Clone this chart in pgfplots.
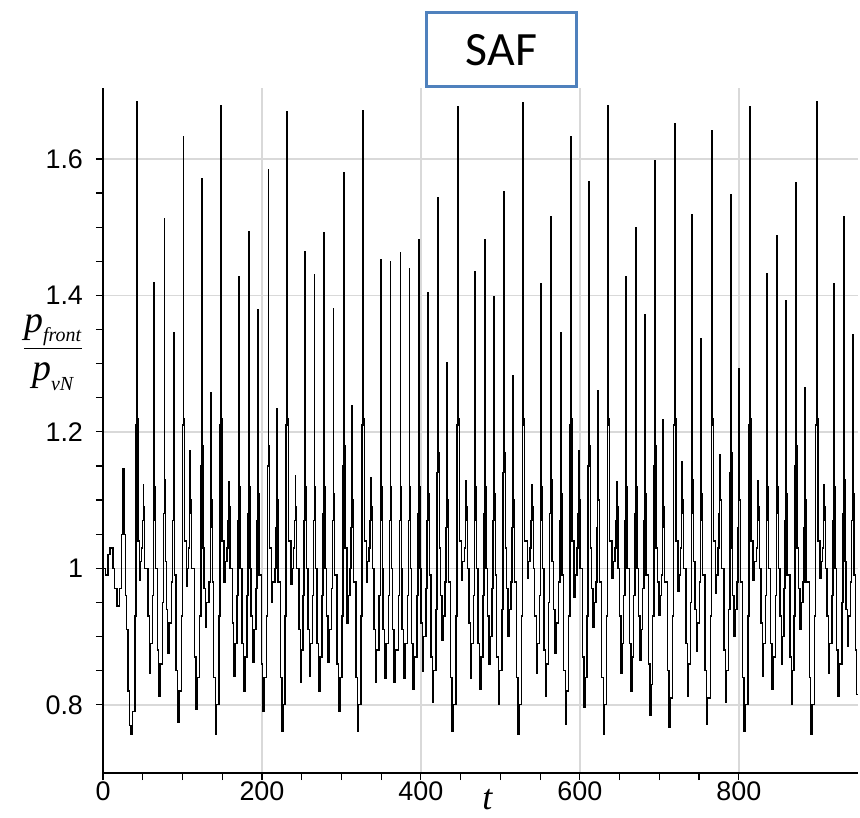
\documentclass[border=0pt]{standalone}
\usepackage{fontspec}
\setmainfont{Liberation Sans}
\newfontfamily\serif{Liberation Serif}
\newfontfamily\calibri{Carlito}
\usepackage{pgfplots}
\pgfplotsset{compat=1.18}
\definecolor{boxblue}{RGB}{79,129,189}
\definecolor{gridgray}{RGB}{217,217,217}
\begin{document}
\begin{tikzpicture}
\path[use as bounding box] (-51.5bp,-22.5bp) rectangle (378.5bp,386.5bp);
\begin{axis}[
  at={(0,0)}, anchor=south west,
  scale only axis, width=377.5bp, height=342.5bp,
  xmin=0, xmax=950, ymin=0.7, ymax=1.704,
  axis x line=bottom, axis y line=left,
  axis line style={-, line width=1bp, black},
  xtick={0,200,400,600,800}, ytick={0.8,1,1.2,1.4,1.6},
  minor x tick num=3, minor y tick num=3,
  tick align=outside, major tick length=3.5bp, minor tick length=3.5bp,
  every tick/.style={black, line width=0.6bp},
  grid=major, major grid style={gridgray, line width=0.8bp},
  ticklabel style={font=\fontsize{13.5}{16}\selectfont},
  yticklabel style={xshift=-3bp},
  xticklabel style={yshift=2.5bp},
  /pgf/number format/assume math mode=true,
  xlabel={\serif\itshape t},
  xlabel style={at={(axis description cs:0.509,-0.039)}, anchor=center, font=\fontsize{18}{20}\selectfont},
  ylabel={$\displaystyle\frac{\mbox{\serif\itshape p}_{\mbox{\serif\itshape\fontsize{10}{11}\selectfont front}}}{\mbox{\serif\itshape p}_{\mbox{\serif\itshape\fontsize{10}{11}\selectfont vN}}}$},
  ylabel style={rotate=-90, at={(axis description cs:-0.066,0.614)}, anchor=center, font=\fontsize{19}{21}\selectfont},
]
\addplot[const plot, black, line width=0.7bp] table[x index=0, y index=1] {
t p
0 1.000
3 0.990
6.5 1.020
9 1.030
12.5 1.000
14.5 0.970
17.5 0.945
20.5 0.970
23.0 1.050
25.2 1.146
26.6 1.050
28.4 0.960
29.8 0.910
31.4 0.820
33.6 0.770
35.3 0.756
37.0 0.790
40.2 0.930
41.5 1.210
42.4 1.684
43.0 1.220
44.2 1.040
45.7 0.983
47.3 1.010
48.5 1.030
49.8 1.070
50.7 1.123
51.3 1.090
52.5 1.000
56.5 0.930
58.3 0.846
59.9 0.890
62.0 0.960
63.3 1.070
64.2 1.418
64.8 1.120
66.0 1.000
68.3 0.880
70.1 0.813
71.7 0.860
74.9 0.950
76.2 1.080
77.1 1.512
77.7 1.130
78.9 1.010
79.6 0.940
81.4 0.875
83.0 0.920
86.3 0.980
87.6 1.070
88.5 1.345
89.1 1.110
90.3 0.990
92.1 0.850
93.9 0.774
95.5 0.820
98.8 0.930
100.1 1.210
101.0 1.633
101.6 1.220
102.8 1.040
105.0 0.973
106.3 1.000
107.3 1.030
108.5 1.080
109.4 1.172
110.0 1.100
111.2 1.000
115.2 0.870
117.0 0.793
118.6 0.840
121.8 0.930
123.1 1.150
124.0 1.571
124.6 1.180
125.8 1.030
127.0 0.970
128.8 0.914
130.4 0.950
133.6 0.980
134.9 1.060
135.8 1.258
136.4 1.100
137.6 0.980
139.4 0.840
141.2 0.757
142.8 0.800
145.8 0.930
147.1 1.210
148.0 1.678
148.6 1.220
149.8 1.040
152.2 0.980
153.8 1.010
155.8 1.030
157.1 1.070
158.0 1.127
158.6 1.090
159.8 1.000
162.6 0.920
164.4 0.842
166.0 0.890
168.5 0.960
169.8 1.070
170.7 1.428
171.3 1.120
172.5 1.000
175.1 0.890
176.9 0.820
178.5 0.870
181.0 0.960
182.3 1.080
183.2 1.494
183.8 1.120
185.0 1.000
186.4 0.930
188.2 0.862
189.8 0.910
192.4 0.970
193.7 1.070
194.6 1.379
195.2 1.110
196.4 0.990
199.1 0.860
200.9 0.790
202.5 0.840
205.8 0.930
207.1 1.150
208.0 1.584
208.6 1.180
209.8 1.030
211.8 0.950
213.4 0.980
216.3 1.000
217.6 1.060
218.5 1.234
219.1 1.100
220.3 0.980
223.4 0.840
225.2 0.761
226.8 0.800
229.2 0.930
230.5 1.210
231.4 1.669
232.0 1.220
233.2 1.040
236.5 0.976
238.1 1.000
239.7 1.030
241.0 1.070
241.9 1.136
242.5 1.090
243.7 1.000
246.4 0.910
248.2 0.833
249.8 0.880
251.8 0.960
253.1 1.070
254.0 1.464
254.6 1.120
255.8 1.000
257.8 0.910
259.6 0.842
261.2 0.890
263.6 0.960
264.9 1.070
265.8 1.430
266.4 1.120
267.6 1.000
269.4 0.890
271.2 0.820
272.8 0.870
275.4 0.960
276.7 1.080
277.6 1.492
278.2 1.120
279.4 1.000
281.3 0.930
283.1 0.862
284.7 0.910
287.5 0.970
288.8 1.070
289.7 1.381
290.3 1.110
291.5 0.990
294.6 0.860
296.4 0.790
298.0 0.840
300.5 0.930
301.8 1.150
302.7 1.580
303.3 1.180
304.5 1.030
307.0 0.920
308.6 0.960
311.0 1.000
312.3 1.060
313.2 1.238
313.8 1.100
315.0 0.980
318.2 0.840
320.0 0.761
321.6 0.800
324.8 0.930
326.1 1.210
327.0 1.670
327.6 1.220
328.8 1.040
331.2 0.980
332.8 1.010
334.9 1.030
336.2 1.070
337.1 1.133
337.7 1.090
338.9 1.000
340.8 0.910
342.6 0.833
344.2 0.880
347.5 0.960
348.8 1.070
349.7 1.453
350.3 1.120
351.5 1.000
352.5 0.910
354.3 0.839
355.9 0.890
359.2 0.960
360.5 1.070
361.4 1.450
362.0 1.120
363.2 1.000
364.3 0.910
366.1 0.833
367.7 0.880
371.8 0.960
373.1 1.070
374.0 1.463
374.6 1.120
375.8 1.000
376.4 0.910
378.2 0.839
379.8 0.890
383.1 0.960
384.4 1.070
385.3 1.439
385.9 1.120
387.1 1.000
388.2 0.890
390.0 0.823
391.6 0.870
394.9 0.960
396.2 1.080
397.1 1.481
397.7 1.120
398.9 1.000
399.9 0.920
401.7 0.849
403.3 0.900
406.6 0.970
407.9 1.070
408.8 1.404
409.4 1.110
410.6 0.990
412.5 0.870
414.3 0.803
415.9 0.850
419.2 0.940
420.5 1.140
421.4 1.543
422.0 1.170
423.2 1.030
424.7 0.960
426.5 0.895
428.1 0.930
430.5 0.980
431.8 1.060
432.7 1.301
433.3 1.100
434.5 0.980
437.3 0.840
439.1 0.761
440.7 0.800
444.3 0.930
445.6 1.210
446.5 1.676
447.1 1.220
448.3 1.040
450.8 0.983
452.4 1.010
454.8 1.030
456.1 1.070
457.0 1.128
457.6 1.090
458.8 1.000
460.3 0.920
462.1 0.839
463.7 0.890
466.1 0.960
467.4 1.070
468.3 1.435
468.9 1.120
470.1 1.000
472.0 0.890
473.8 0.823
475.4 0.870
477.9 0.960
479.2 1.080
480.1 1.482
480.7 1.120
481.9 1.000
483.8 0.930
485.6 0.859
487.2 0.900
489.6 0.970
490.9 1.070
491.8 1.398
492.4 1.110
493.6 0.990
495.5 0.870
497.3 0.800
498.9 0.850
502.2 0.940
503.5 1.140
504.4 1.552
505.0 1.170
506.2 1.030
507.7 0.970
509.5 0.901
511.1 0.940
513.5 0.980
514.8 1.060
515.7 1.283
516.3 1.100
517.5 0.980
520.3 0.840
522.1 0.757
523.7 0.800
526.5 0.930
527.8 1.210
528.7 1.683
529.3 1.220
530.5 1.040
533.8 0.986
535.4 1.010
537.4 1.030
538.7 1.070
539.6 1.123
540.2 1.090
541.4 1.000
543.3 0.930
545.1 0.846
546.7 0.890
549.1 0.960
550.4 1.070
551.3 1.417
551.9 1.120
553.1 1.000
555.0 0.880
556.8 0.813
558.4 0.860
560.9 0.950
562.2 1.080
563.1 1.515
563.7 1.130
564.9 1.010
566.8 0.940
568.6 0.875
570.2 0.920
573.5 0.980
574.8 1.070
575.7 1.345
576.3 1.110
577.5 0.990
579.8 0.850
581.6 0.771
583.2 0.820
586.1 0.930
587.4 1.210
588.3 1.633
588.9 1.220
590.1 1.040
592.5 0.957
594.1 0.990
596.2 1.030
597.5 1.080
598.4 1.172
599.0 1.100
600.2 1.000
603.3 0.870
605.1 0.797
606.7 0.840
609.1 0.930
610.4 1.150
611.3 1.567
611.9 1.180
613.1 1.030
615.0 0.970
616.8 0.914
618.4 0.950
620.4 0.980
621.7 1.060
622.6 1.260
623.2 1.100
624.4 0.980
627.6 0.840
629.4 0.757
631.0 0.800
633.4 0.930
634.7 1.210
635.6 1.678
636.2 1.220
637.4 1.040
640.7 0.986
642.3 1.010
644.0 1.030
645.3 1.070
646.2 1.127
646.8 1.090
648.0 1.000
649.8 0.930
651.6 0.846
653.2 0.890
655.3 0.960
656.6 1.070
657.5 1.427
658.1 1.120
659.3 1.000
662.4 0.890
664.2 0.820
665.8 0.870
667.9 0.960
669.2 1.080
670.1 1.499
670.7 1.120
671.9 1.000
673.7 0.930
675.5 0.865
677.1 0.910
679.2 0.970
680.5 1.070
681.4 1.371
682.0 1.110
683.2 0.990
686.3 0.860
688.1 0.784
689.7 0.830
691.8 0.930
693.1 1.150
694.0 1.597
694.6 1.180
695.8 1.030
697.6 0.980
699.4 0.931
701.0 0.960
702.6 0.990
703.9 1.060
704.8 1.218
705.4 1.090
706.6 0.980
710.2 0.850
712.0 0.767
713.6 0.810
716.9 0.930
718.2 1.210
719.1 1.652
719.7 1.220
720.9 1.040
723.7 0.966
725.3 0.990
726.5 1.030
727.8 1.080
728.7 1.156
729.3 1.100
730.5 1.000
733.6 0.890
735.4 0.813
737.0 0.860
739.1 0.950
740.4 1.080
741.3 1.518
741.9 1.130
743.1 1.010
744.9 0.940
746.7 0.878
748.3 0.920
750.4 0.980
751.7 1.070
752.6 1.337
753.2 1.110
754.4 0.990
757.5 0.850
759.3 0.771
760.9 0.810
764.2 0.930
765.5 1.210
766.4 1.641
767.0 1.220
768.2 1.040
770.7 0.963
772.3 0.990
773.9 1.030
775.2 1.080
776.1 1.166
776.7 1.100
777.9 1.000
781.5 0.880
783.3 0.803
784.9 0.850
787.4 0.940
788.7 1.140
789.6 1.548
790.2 1.170
791.4 1.030
792.4 0.960
794.2 0.901
795.8 0.940
797.8 0.980
799.1 1.060
800.0 1.293
800.6 1.100
801.8 0.980
804.9 0.840
806.7 0.761
808.3 0.800
811.6 0.930
812.9 1.210
813.8 1.676
814.4 1.220
815.6 1.040
818.1 0.983
819.7 1.010
822.1 1.030
823.4 1.070
824.3 1.128
824.9 1.090
826.1 1.000
828.0 0.920
829.8 0.842
831.4 0.890
833.4 0.960
834.7 1.070
835.6 1.432
836.2 1.120
837.4 1.000
839.8 0.890
841.6 0.823
843.2 0.870
846.0 0.960
847.3 1.080
848.2 1.487
848.8 1.120
850.0 1.000
851.9 0.930
853.7 0.859
855.3 0.900
856.9 0.970
858.2 1.070
859.1 1.392
859.7 1.110
860.9 0.990
864.4 0.870
866.2 0.800
867.8 0.850
869.5 0.930
870.8 1.150
871.7 1.565
872.3 1.180
873.5 1.030
875.4 0.970
877.2 0.911
878.8 0.950
880.8 0.980
882.1 1.060
883.0 1.264
883.6 1.100
884.8 0.980
888.8 0.840
890.6 0.757
892.2 0.800
895.5 0.930
896.8 1.210
897.7 1.684
898.3 1.220
899.5 1.040
902.0 0.986
903.6 1.010
905.1 1.030
906.4 1.070
907.3 1.123
907.9 1.090
909.1 1.000
911.0 0.930
912.8 0.846
914.4 0.890
917.3 0.960
918.6 1.070
919.5 1.417
920.1 1.120
921.3 1.000
923.2 0.880
925.0 0.813
926.6 0.860
929.9 0.950
931.2 1.080
932.1 1.515
932.7 1.130
933.9 1.010
934.9 0.940
936.7 0.885
938.3 0.930
940.8 0.980
942.1 1.070
943.0 1.342
943.6 1.110
944.8 0.990
946.5 0.880
948.2 0.815
950.0 0.815
};
\end{axis}
\node[draw=boxblue, line width=1.5bp, fill=white, minimum width=75bp, minimum height=37bp, inner sep=0pt, font=\calibri\fontsize{24}{28}\selectfont] at (199.25bp,361.5bp) {SAF};
\end{tikzpicture}
\end{document}
